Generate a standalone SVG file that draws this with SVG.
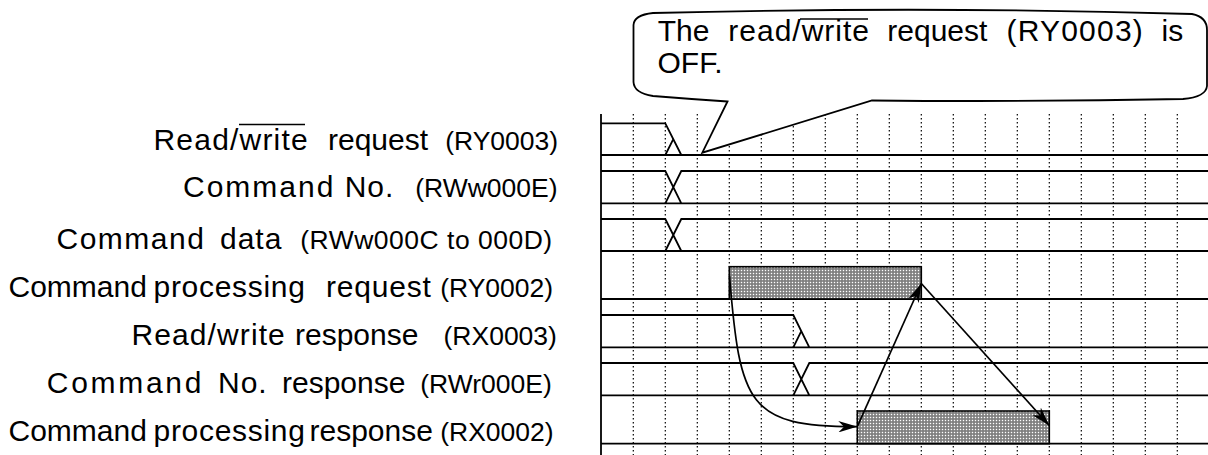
<svg xmlns="http://www.w3.org/2000/svg" width="1208" height="455" viewBox="0 0 1208 455">
<style>
.t{font-family:"Liberation Sans",Arial,sans-serif;font-size:30px;fill:#000}
.p{font-size:26.5px}
.grid{stroke:#000;stroke-width:1.2;stroke-dasharray:1.6 2.4;fill:none}
.sig{stroke:#000;stroke-width:1.8;fill:none}
.bar{fill:url(#dots);stroke:#000;stroke-width:1.6}
.arr{stroke:#000;stroke-width:1.7;fill:none;marker-end:url(#ah)}
.ol{stroke:#000;stroke-width:1.5}
</style>
<defs>
<pattern id="dots" width="3" height="3" patternUnits="userSpaceOnUse">
<rect width="3" height="3" fill="#959595"/>
<rect width="1" height="1" fill="#ffffff"/>
<rect x="1.5" y="1.5" width="1" height="1" fill="#444444"/>
</pattern>
<marker id="ah" markerUnits="userSpaceOnUse" viewBox="0 0 20 12" markerWidth="19" markerHeight="11.4" refX="20" refY="6" orient="auto">
<path d="M0,0 L20,6 L0,12 L6,6 Z" fill="#000"/>
</marker>
</defs>
<rect width="1208" height="455" fill="#fff"/>

<g id="grid" class="grid">
<path d="M633.3,114V455M665.3,114V455M697.3,114V455M729.3,114V455M761.3,114V455M793.3,114V455M825.3,114V455M857.3,114V455M889.3,114V455M921.3,114V455M953.3,114V455M985.3,114V455M1017.3,114V455M1049.3,114V455M1081.3,114V455M1113.3,114V455M1145.3,114V455M1177.3,114V455"/>
</g>

<g id="axis"><path class="sig" stroke-width="2" d="M601,114V455"/></g>

<g id="sig-rw-request"><path class="sig" d="M601,123.3H665.3L681.3,155M665.3,155L673.3,139.2M601,155H1208"/></g>
<g id="sig-cmd-no"><path class="sig" d="M601,171H665.3L681.3,203.3M665.3,203.3L681.3,171H1208M601,203.3H1208"/></g>
<g id="sig-cmd-data"><path class="sig" d="M601,219H665.3L681.3,251M665.3,251L681.3,219H1208M601,251H1208"/></g>
<g id="sig-cmd-proc-req"><path class="sig" d="M601,299H1208"/><rect class="bar" x="729.3" y="266.7" width="192" height="32.3"/></g>
<g id="sig-rw-response"><path class="sig" d="M601,315H793.3L809.3,347.3M793.3,347.3L801.3,331.2M601,347.3H1208"/></g>
<g id="sig-cmd-no-resp"><path class="sig" d="M601,363H793.3L809.3,395.3M793.3,395.3L809.3,363H1208M601,395.3H1208"/></g>
<g id="sig-cmd-proc-resp"><path class="sig" d="M601,443.7H1208"/><rect class="bar" x="857.3" y="411" width="192" height="32.7"/></g>

<g id="callout">
<path d="M653,13 Q930,6 1192,14 Q1207,17 1207,30 L1207,86 Q1206,97 1183,99 Q1030,102 872,100.5 L702.3,152.7 L727.5,101.5 Q690,99 653,96 Q634,93 633.5,82 L633.5,25 Q634,15 653,13 Z" fill="#fff" stroke="#000" stroke-width="1.8"/>
<text class="t" y="41"><tspan x="657.8">The</tspan><tspan x="728.3" letter-spacing="1">read/write</tspan><tspan x="887.3">request</tspan><tspan x="1006.5" letter-spacing="1.2">(RY0003)</tspan><tspan x="1161.5">is</tspan></text>
<text class="t" x="657.5" y="73.3">OFF.</text>
<line class="ol" x1="800" y1="19" x2="868" y2="19"/>
</g>

<g id="connectors">
<path class="arr" d="M729.5,276 C740,405 748,427 857.3,426.7"/>
<path class="arr" d="M857.3,426.7 L921.3,283.5"/>
<path class="arr" d="M921.3,283.5 L1049.3,425.5"/>
</g>

<g id="label-rw-request">
<text class="t" y="150"><tspan x="153.5" letter-spacing="1.2">Read/write</tspan><tspan x="328">request</tspan><tspan class="p" x="445.2">(RY0003)</tspan></text>
<line class="ol" x1="239" y1="124.5" x2="305" y2="124.5"/>
</g>
<g id="label-cmd-no">
<text class="t" y="197"><tspan x="183" letter-spacing="2">Command</tspan><tspan x="344.7" letter-spacing="1">No.</tspan><tspan class="p" x="415.2">(RWw000E)</tspan></text>
</g>
<g id="label-cmd-data">
<text class="t" y="248.5"><tspan x="56.5" letter-spacing="1.5">Command</tspan><tspan x="220" letter-spacing="1">data</tspan><tspan class="p" x="300.2" letter-spacing="0.5">(RWw000C to 000D)</tspan></text>
</g>
<g id="label-cmd-proc-req">
<text class="t" y="296.5"><tspan x="8.5">Command</tspan><tspan x="153.5" letter-spacing="0.7">processing</tspan><tspan x="326" letter-spacing="0.8">request</tspan><tspan class="p" x="440.2">(RY0002)</tspan></text>
</g>
<g id="label-rw-response">
<text class="t" y="345"><tspan x="131.5" letter-spacing="1.1">Read/write</tspan><tspan x="295">response</tspan><tspan class="p" x="443.5">(RX0003)</tspan></text>
</g>
<g id="label-cmd-no-resp">
<text class="t" y="393"><tspan x="46.8" letter-spacing="2.7">Command</tspan><tspan x="218" letter-spacing="1">No.</tspan><tspan x="282">response</tspan><tspan class="p" x="420.2">(RWr000E)</tspan></text>
</g>
<g id="label-cmd-proc-resp">
<text class="t" y="440.5"><tspan x="8.5">Command</tspan><tspan x="153.5" letter-spacing="0.7">processing</tspan><tspan x="309.5">response</tspan><tspan class="p" x="440.2">(RX0002)</tspan></text>
</g>
</svg>
